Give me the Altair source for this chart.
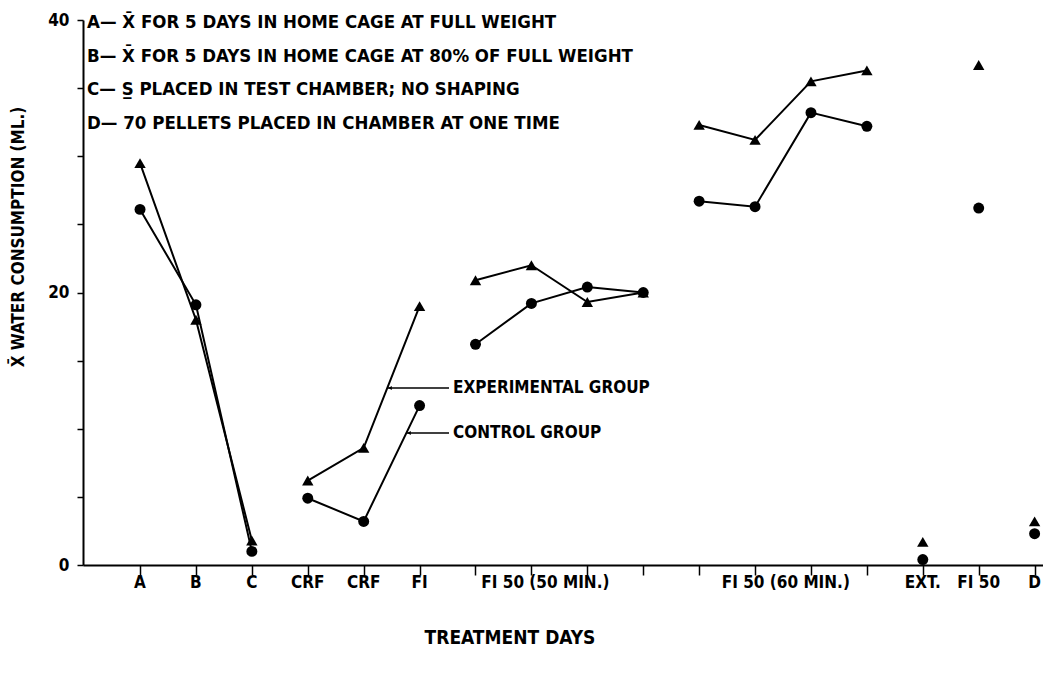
import altair as alt
import pandas as pd

# ---- data ----
positions = list(range(17))
segments = [1, 1, 1, 2, 2, 2, 3, 3, 3, 3, 4, 4, 4, 4, 5, 6, 7]
experimental = [29.5, 18.0, 1.8, 6.2, 8.6, 19.0, 20.9, 22.0, 19.3, 20.0,
                32.3, 31.2, 35.5, 36.3, 1.7, 36.7, 3.2]
control = [26.1, 19.1, 1.0, 4.9, 3.2, 11.7, 16.2, 19.2, 20.4, 20.0,
           26.7, 26.3, 33.2, 32.2, 0.4, 26.2, 2.3]

tick_labels = ["A", "B", "C", "CRF", "CRF", "FI", "FI 50 (50 MIN.)",
               "FI  50  (60  MIN.)", "EXT.", "FI 50", "D"]
tick_label_pos = [0, 1, 2, 3, 4, 5, 7.25, 11.55, 14, 15, 16]

legend_lines = [
    "A\u2014 X\u0304 FOR 5 DAYS IN HOME CAGE AT FULL WEIGHT",
    "B\u2014 X\u0304 FOR 5 DAYS IN HOME CAGE AT 80% OF FULL WEIGHT",
    "C\u2014 S\u0332 PLACED IN TEST CHAMBER; NO SHAPING",
    "D\u2014 70 PELLETS PLACED IN CHAMBER AT ONE TIME",
]

FONT = "Liberation Sans Narrow, DejaVu Sans Condensed, Arial Narrow, sans-serif"

rows = []
for i, p in enumerate(positions):
    rows.append({"x": p, "y": experimental[i], "group": "Experimental", "seg": segments[i]})
    rows.append({"x": p, "y": control[i], "group": "Control", "seg": segments[i]})
df = pd.DataFrame(rows)

xscale = alt.Scale(domain=[-1.02, 16.15], nice=False, zero=False)
yscale = alt.Scale(domain=[0, 40], nice=False)

x_axis = alt.Axis(values=positions, labels=False, title=None, grid=False,
                  tickSize=10, tickWidth=1.5, tickColor="black",
                  domainColor="black", domainWidth=2)
y_axis = alt.Axis(values=list(range(0, 41, 5)), grid=False, title=None,
                  labelExpr="datum.value % 20 == 0 ? datum.label : ''",
                  tickSize=6, tickWidth=1.5, tickColor="black",
                  domainColor="black", domainWidth=2,
                  labelFont=FONT, labelFontSize=17, labelFontWeight="bold",
                  labelColor="black", labelPadding=8)

x_enc = alt.X("x:Q", scale=xscale, axis=x_axis)
y_enc = alt.Y("y:Q", scale=yscale, axis=y_axis)

lines = alt.Chart(df).mark_line(color="black", strokeWidth=2).encode(
    x=x_enc, y=y_enc, detail=["group:N", "seg:N"]
)

tri = alt.Chart(df[df.group == "Experimental"]).mark_point(
    shape="triangle-up", filled=True, color="black", size=130, opacity=1
).encode(x=x_enc, y=y_enc)

circ = alt.Chart(df[df.group == "Control"]).mark_point(
    shape="circle", filled=True, color="black", size=120, opacity=1
).encode(x=x_enc, y=y_enc)

lab_df = pd.DataFrame({"x": tick_label_pos, "label": tick_labels})
xlabels = alt.Chart(lab_df).mark_text(
    font=FONT, fontSize=17, fontWeight="bold", color="black", baseline="middle"
).encode(x=x_enc, y=alt.value(563), text="label:N")

one = pd.DataFrame({"a": [0]})

legend = alt.Chart(one).mark_text(
    font=FONT, fontSize=18.5, fontWeight="bold", color="black", align="left",
    baseline="top", lineHeight=33.5
).encode(x=alt.value(4), y=alt.value(-7), text=alt.value(legend_lines))

ann1 = alt.Chart(one).mark_text(
    font=FONT, fontSize=17, fontWeight="bold", color="black", align="left",
    baseline="middle"
).encode(x=alt.value(370), y=alt.value(368), text=alt.value("EXPERIMENTAL GROUP"))
ann2 = alt.Chart(one).mark_text(
    font=FONT, fontSize=17, fontWeight="bold", color="black", align="left",
    baseline="middle"
).encode(x=alt.value(370), y=alt.value(413), text=alt.value("CONTROL GROUP"))

ann_rule1 = alt.Chart(one).mark_rule(color="black", strokeWidth=1.5).encode(
    x=alt.value(305), x2=alt.value(366), y=alt.value(368))
ann_rule2 = alt.Chart(one).mark_rule(color="black", strokeWidth=1.5).encode(
    x=alt.value(324), x2=alt.value(366), y=alt.value(413))
arrow1 = alt.Chart(one).mark_point(
    shape="triangle-left", filled=True, color="black", size=18, opacity=1).encode(
    x=alt.value(307), y=alt.value(368))
arrow2 = alt.Chart(one).mark_point(
    shape="triangle-left", filled=True, color="black", size=18, opacity=1).encode(
    x=alt.value(326), y=alt.value(413))

xtitle = alt.Chart(one).mark_text(
    font=FONT, fontSize=19, fontWeight="bold", color="black", baseline="middle"
).encode(x=alt.value(427), y=alt.value(618), text=alt.value("TREATMENT   DAYS"))

ytitle = alt.Chart(one).mark_text(
    font=FONT, fontSize=17, fontWeight="bold", color="black", baseline="middle", angle=270
).encode(x=alt.value(-64), y=alt.value(217),
         text=alt.value("X\u0304 WATER CONSUMPTION (ML.)"))

chart = alt.layer(
    lines, tri, circ, xlabels, legend, ann1, ann2, ann_rule1, ann_rule2, arrow1, arrow2,
    xtitle, ytitle
).properties(
    width=960, height=545,
    background="white",
    autosize=alt.AutoSizeParams(type="none"),
    padding={"left": 83, "top": 20, "right": 0, "bottom": 112},
).configure_view(strokeWidth=0, stroke=None
).configure_axis(grid=False)

chart.save("out.html", embed_options={"renderer": "svg", "actions": False})
